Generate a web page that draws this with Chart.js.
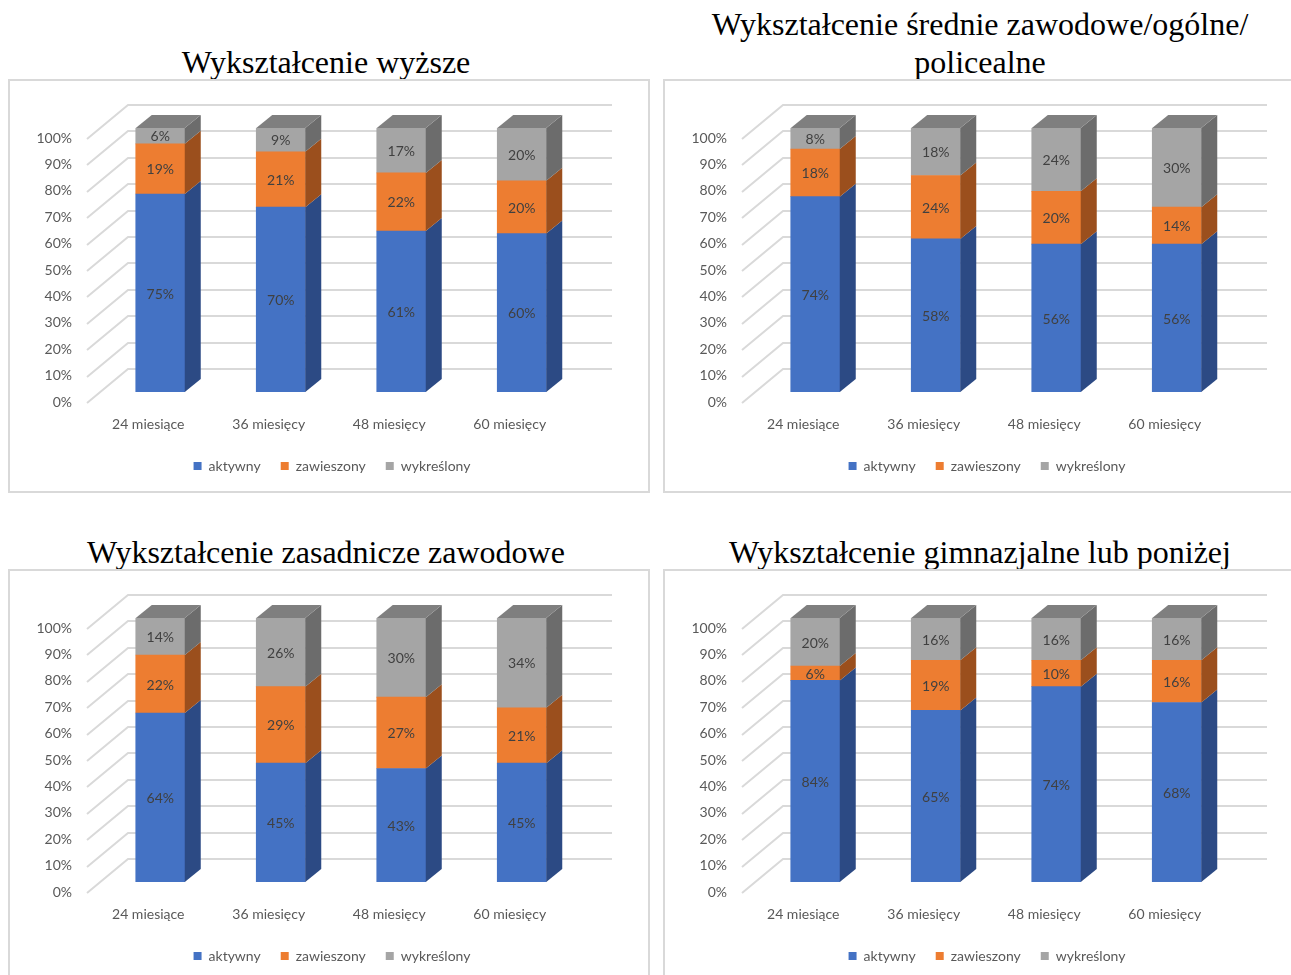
<!DOCTYPE html>
<html lang="pl">
<head>
<meta charset="utf-8">
<title>Wykształcenie - status</title>
<script src="https://cdn.jsdelivr.net/npm/chart.js@4.4.1/dist/chart.umd.min.js"></script>
<style>
  html, body { margin: 0; padding: 0; background: #fff; }
  body { width: 1291px; height: 975px; overflow: hidden; position: relative; }
  .title {
    position: absolute; width: 650px; text-align: center;
    font-family: "Liberation Serif", "Times New Roman", serif;
    font-size: 32px; line-height: 38px; color: #000;
  }
  .frame {
    position: absolute; width: 642px; height: 414px;
    outline: 2px solid #d9d9d9; outline-offset: -2px;
  }
  .frame canvas { position: absolute; left: 0; top: 0; }
</style>
</head>
<body>
<div class="title" style="left:1px; top:43px;">Wykształcenie wyższe</div>
<div class="title" style="left:655px; top:5px;">Wykształcenie średnie zawodowe/ogólne/<br>policealne</div>
<div class="title" style="left:1px; top:533px;">Wykształcenie zasadnicze zawodowe</div>
<div class="title" style="left:655px; top:533px;">Wykształcenie gimnazjalne lub poniżej</div>

<div class="frame" style="left:8px; top:79px;"><canvas id="c1" width="642" height="414"></canvas></div>
<div class="frame" style="left:663px; top:79px;"><canvas id="c2" width="642" height="414"></canvas></div>
<div class="frame" style="left:8px; top:569px;"><canvas id="c3" width="642" height="414"></canvas></div>
<div class="frame" style="left:663px; top:569px;"><canvas id="c4" width="642" height="414"></canvas></div>

<script>
// dane
const categories = ['24 miesiące', '36 miesięcy', '48 miesięcy', '60 miesięcy'];
const seriesNames = ['aktywny', 'zawieszony', 'wykreślony'];
const yTicks = [0, 10, 20, 30, 40, 50, 60, 70, 80, 90, 100];

// Wykształcenie wyższe
const wyzszeAktywny = [75, 70, 61, 60];
const wyzszeZawieszony = [19, 21, 22, 20];
const wyzszeWykreslony = [6, 9, 17, 20];

// Wykształcenie średnie zawodowe/ogólne/policealne
const srednieAktywny = [74, 58, 56, 56];
const srednieZawieszony = [18, 24, 20, 14];
const srednieWykreslony = [8, 18, 24, 30];

// Wykształcenie zasadnicze zawodowe
const zasadniczeAktywny = [64, 45, 43, 45];
const zasadniczeZawieszony = [22, 29, 27, 21];
const zasadniczeWykreslony = [14, 26, 30, 34];

// Wykształcenie gimnazjalne lub poniżej
const gimnazjalneAktywny = [84, 65, 74, 68];
const gimnazjalneZawieszony = [6, 19, 10, 16];
const gimnazjalneWykreslony = [20, 16, 16, 16];

const colors = ['#4472C4', '#ED7D31', '#A5A5A5'];
const sideColors = ['#2C4A84', '#9B4F1D', '#6C6C6C'];
const topColor = '#7F7F7F';
const DX = 16, DY = 13;

// 3D: sciana tylna, boki i wierzch slupkow, etykiety
const threeD = {
    id: 'threeD',
    beforeDatasetsDraw(chart) {
        const ctx = chart.ctx;
        const a = chart.chartArea;
        const y = chart.scales.y;
        ctx.save();
        ctx.strokeStyle = '#d9d9d9';
        ctx.lineWidth = 2;
        yTicks.forEach(v => {
            const py = Math.round(y.getPixelForValue(v));
            ctx.beginPath();
            ctx.moveTo(a.left - 13, py + 11);
            ctx.lineTo(a.left + 28, py - 23);
            ctx.lineTo(a.right + 30, py - 23);
            ctx.stroke();
        });
        ctx.restore();
    },
    afterDatasetsDraw(chart) {
        const ctx = chart.ctx;
        const n = chart.data.datasets.length;
        ctx.save();
        chart.data.datasets.forEach((ds, di) => {
            chart.getDatasetMeta(di).data.forEach(bar => {
                const p = bar.getProps(['x', 'y', 'base', 'width'], true);
                const L = p.x - p.width / 2, R = p.x + p.width / 2;
                ctx.fillStyle = sideColors[di];
                ctx.beginPath();
                ctx.moveTo(R, p.y);
                ctx.lineTo(R + DX, p.y - DY);
                ctx.lineTo(R + DX, p.base - DY);
                ctx.lineTo(R, p.base);
                ctx.closePath();
                ctx.fill();
                if (di === n - 1) {
                    ctx.fillStyle = topColor;
                    ctx.beginPath();
                    ctx.moveTo(L, p.y);
                    ctx.lineTo(L + DX, p.y - DY);
                    ctx.lineTo(R + DX, p.y - DY);
                    ctx.lineTo(R, p.y);
                    ctx.closePath();
                    ctx.fill();
                }
            });
        });
        ctx.fillStyle = '#404040';
        ctx.font = '14px Lato';
        ctx.textAlign = 'center';
        ctx.textBaseline = 'middle';
        chart.data.datasets.forEach((ds, di) => {
            chart.getDatasetMeta(di).data.forEach((bar, i) => {
                const p = bar.getProps(['x', 'y', 'base'], true);
                ctx.fillText(ds.raw[i] + '%', p.x, (p.y + p.base) / 2 + 1);
            });
        });
        ctx.restore();
    }
};

function makeChart(id, aktywny, zawieszony, wykreslony) {
    const series = [aktywny, zawieszony, wykreslony];
    const totals = categories.map((c, i) => aktywny[i] + zawieszony[i] + wykreslony[i]);
    const datasets = series.map((vals, k) => ({
        label: seriesNames[k],
        data: vals.map((v, i) => v / totals[i] * 100),
        raw: vals,
        backgroundColor: colors[k],
        borderWidth: 0,
        barThickness: 49
    }));
    return new Chart(document.getElementById(id).getContext('2d'), {
        type: 'bar',
        data: { labels: categories, datasets: datasets },
        options: {
            responsive: false,
            animation: false,
            layout: { padding: { top: 49, left: 6, right: 0, bottom: 10 } },
            plugins: {
                legend: {
                    position: 'bottom',
                    labels: {
                        boxWidth: 8,
                        boxHeight: 8,
                        padding: 20,
                        color: '#595959',
                        font: { family: 'Lato', size: 14 }
                    }
                },
                tooltip: { enabled: false }
            },
            scales: {
                x: {
                    stacked: true,
                    grid: { display: false, drawTicks: false },
                    border: { display: false },
                    ticks: {
                        color: '#595959',
                        font: { family: 'Lato', size: 14 },
                        padding: 24,
                        labelOffset: -12
                    },
                    afterFit: s => { s.height = 47; }
                },
                y: {
                    stacked: true,
                    min: 0,
                    max: 100,
                    grid: { display: false, drawTicks: false },
                    border: { display: false },
                    ticks: {
                        stepSize: 10,
                        color: '#595959',
                        font: { family: 'Lato', size: 14 },
                        padding: 28,
                        labelOffset: 10,
                        callback: v => v + '%'
                    },
                    afterFit: s => { s.width = 86; }
                },
                // pusta os po prawej - miejsce na sciane tylna
                yRight: {
                    position: 'right',
                    grid: { display: false, drawTicks: false },
                    border: { display: false },
                    ticks: { display: false },
                    afterFit: s => { s.width = 68; }
                }
            }
        },
        plugins: [threeD]
    });
}

makeChart('c1', wyzszeAktywny, wyzszeZawieszony, wyzszeWykreslony);
makeChart('c2', srednieAktywny, srednieZawieszony, srednieWykreslony);
makeChart('c3', zasadniczeAktywny, zasadniczeZawieszony, zasadniczeWykreslony);
makeChart('c4', gimnazjalneAktywny, gimnazjalneZawieszony, gimnazjalneWykreslony);
</script>
</body>
</html>
